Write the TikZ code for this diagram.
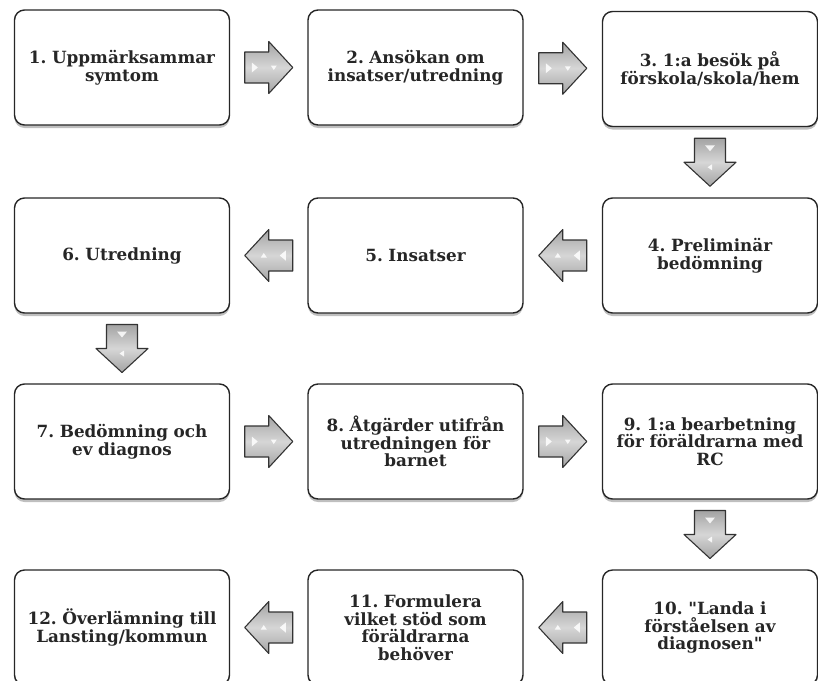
\documentclass[tikz,border=0pt]{standalone}
\usepackage{fontspec}
\setmainfont{DejaVu Serif}[WordSpace=0.6, Ligatures=TeXOff]
\frenchspacing
\usetikzlibrary{shadows,calc}
\tikzset{
  box/.style={draw=black!85, line width=1.4pt, rounded corners=10pt, fill=white,
    minimum width=215pt, minimum height=115pt, inner sep=0pt,
    align=center, text width=210pt,
    font=\bfseries\fontsize{16.8}{17.5}\selectfont, text=black!85,
    drop shadow={shadow xshift=0pt, shadow yshift=-3pt, opacity=0.25, fill=black}},
  arrbody/.style={draw=black!80, line width=1.1pt, line join=round},
  glint/.style={fill=white, draw=none, opacity=0.85},
  blockarr/.pic={
    \shade[arrbody, shading angle=#1, top color=gray!72, bottom color=gray!72, middle color=gray!32]
      (-24,-15.5) -- (0,-15.5) -- (0,-26) -- (24,0) -- (0,26) -- (0,15.5) -- (-24,15.5) -- cycle;
    \fill[glint] (-17,-5) -- (-11,0) -- (-17,5) -- cycle;
    \fill[glint] (2,-2) -- (8,-2) -- (5,2.5) -- cycle;
  }
}
\begin{document}
\begin{tikzpicture}[x=1pt,y=-1pt]
\useasboundingbox (0,0) rectangle (818,680);
% row 1
\node[box] (b1) at (122,67.5) {1. Uppmärksammar\\symtom};
\node[box] (b2) at (415.5,67.5) {2. Ansökan om\\insatser/utredning};
\node[box] (b3) at (710,69) {3. 1:a besök på\\förskola/skola/hem};
% row 2
\node[box] (b4) at (710,255.5) {4. Preliminär\\bedömning};
\node[box] (b5) at (415.5,255.5) {5. Insatser};
\node[box] (b6) at (122,255.5) {6. Utredning};
% row 3
\node[box] (b7) at (122,441.5) {7. Bedömning och\\ev diagnos};
\node[box] (b8) at (415.5,441.5) {8. Åtgärder utifrån\\utredningen för\\barnet};
\node[box] (b9) at (710,441.5) {9. 1:a bearbetning\\för föräldrarna med\\RC};
% row 4
\node[box] (b10) at (710,627.5) {10. "Landa i\\förståelsen av\\diagnosen"};
\node[box] (b11) at (415.5,627.5) {11. Formulera\\vilket stöd som\\föräldrarna\\behöver};
\node[box] (b12) at (122,627.5) {12. Överlämning till\\Lansting/kommun};
% arrows
\coordinate (a12) at ($(b1.east)!0.5!(b2.west)$);
\path (a12) pic {blockarr=0};
\coordinate (a23) at ($(b2.east)!0.5!(b3.west)$);
\path (a23) pic {blockarr=0};
\coordinate (a34) at ($(b3.south)!0.5!(b4.north)$);
\path (a34) pic[rotate=-90] {blockarr=90};
\coordinate (a45) at ($(b4.west)!0.5!(b5.east)$);
\path (a45) pic[rotate=180] {blockarr=0};
\coordinate (a56) at ($(b5.west)!0.5!(b6.east)$);
\path (a56) pic[rotate=180] {blockarr=0};
\coordinate (a67) at ($(b6.south)!0.5!(b7.north)$);
\path (a67) pic[rotate=-90] {blockarr=90};
\coordinate (a78) at ($(b7.east)!0.5!(b8.west)$);
\path (a78) pic {blockarr=0};
\coordinate (a89) at ($(b8.east)!0.5!(b9.west)$);
\path (a89) pic {blockarr=0};
\coordinate (a910) at ($(b9.south)!0.5!(b10.north)$);
\path (a910) pic[rotate=-90] {blockarr=90};
\coordinate (a1011) at ($(b10.west)!0.5!(b11.east)$);
\path (a1011) pic[rotate=180] {blockarr=0};
\coordinate (a1112) at ($(b11.west)!0.5!(b12.east)$);
\path (a1112) pic[rotate=180] {blockarr=0};
\end{tikzpicture}
\end{document}
